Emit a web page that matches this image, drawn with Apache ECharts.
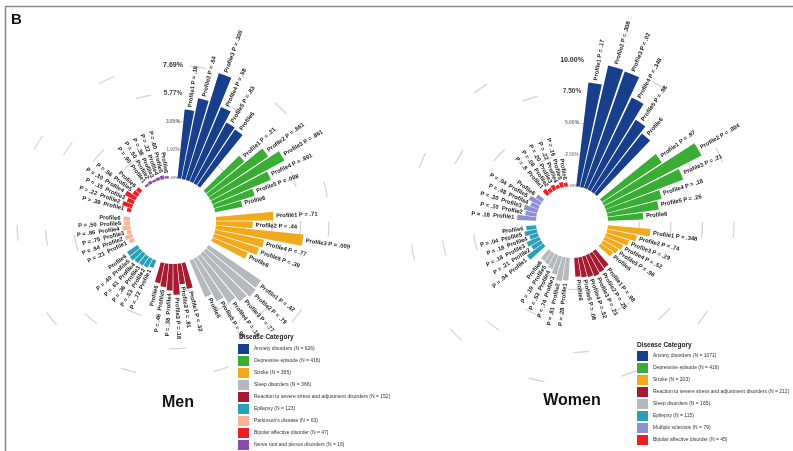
<!DOCTYPE html>
<html>
<head>
<meta charset="utf-8">
<script src="https://cdn.jsdelivr.net/npm/echarts@6/dist/echarts.min.js"></script>
<style>
  html, body { margin: 0; padding: 0; background: #fff; }
  #chart { width: 793px; height: 451px; }
</style>
</head>
<body>
<div id="chart"></div>
<script>
// ---- profiles and radial tick labels ----
const profiles = ['Profile1', 'Profile2', 'Profile3', 'Profile4', 'Profile5', 'Profile6'];
const menTickLabels = ['0.00%', '1.92%', '3.85%', '5.77%', '7.69%'];
const womenTickLabels = ['0.00%', '2.50%', '5.00%', '7.50%', '10.00%'];

// ---- Men: disease categories, counts, bar heights (%) and P values ----
const menGroups = ['Anxiety disorders', 'Depressive episode', 'Stroke', 'Sleep disorders',
  'Reaction to severe stress and adjustment disorders', 'Epilepsy', "Parkinson's disease",
  'Bipolar affective disorder', 'Nerve root and plexus disorders'];
const menN = [626, 416, 365, 366, 152, 123, 63, 47, 16];

const menAnxiety    = [4.7, 5.6, 7.6, 5.5, 4.7, 4.6];
const menDepressive = [3.4, 4.9, 5.7, 4.3, 2.9, 1.9];
const menStroke     = [3.9, 2.5, 6.0, 3.4, 3.2, 2.6];
const menSleep      = [4.3, 4.4, 4.2, 3.8, 3.3, 2.7];
const menReaction   = [1.8, 1.4, 2.1, 1.8, 1.6, 1.4];
const menEpilepsy   = [0.55, 0.7, 0.75, 0.8, 0.9, 0.85];
const menParkinson  = [0.35, 0.5, 0.3, 0.55, 0.4, 0.45];
const menBipolar    = [0.3, 0.7, 0.5, 0.8, 0.4, 0.35];
const menNerve      = [0.15, 0.2, 0.15, 0.2, 0.25, 0.15];

const menAnxietyP    = ['.18', '.64', '.300', '.58', '.83', ''];
const menDepressiveP = ['.21', '.861', '.861', '.891', '.008', ''];
const menStrokeP     = ['.71', '.44', '.009', '.77', '.39', ''];
const menSleepP      = ['.42', '.79', '.77', '.18', '.98', ''];
const menReactionP   = ['.32', '.81', '.18', '.38', '.46', ''];
const menEpilepsyP   = ['.72', '.53', '.36', '.61', '.40', ''];
const menParkinsonP  = ['.21', '.94', '.75', '.86', '.50', ''];
const menBipolarP    = ['.39', '.22', '.15', '.30', '.56', ''];
const menNerveP      = ['.90', '.50', '.38', '.22', '.60', ''];

// ---- Women ----
const womenGroups = ['Anxiety disorders', 'Depressive episode', 'Stroke',
  'Reaction to severe stress and adjustment disorders', 'Sleep disorders', 'Epilepsy',
  'Multiple sclerosis', 'Bipolar affective disorder'];
const womenN = [1071, 416, 203, 212, 165, 115, 79, 45];

const womenAnxiety    = [8.3, 9.9, 9.8, 8.1, 6.7, 6.1];
const womenDepressive = [5.7, 8.7, 6.6, 4.5, 4.1, 2.8];
const womenStroke     = [3.4, 2.4, 1.9, 1.6, 1.4, 1.2];
const womenReaction   = [1.6, 1.7, 1.8, 1.7, 1.6, 1.5];
const womenSleep      = [1.8, 1.9, 1.5, 1.2, 1.0, 0.9];
const womenEpilepsy   = [1.6, 0.9, 1.1, 0.7, 1.0, 0.8];
const womenMS         = [1.5, 0.9, 1.1, 0.7, 1.0, 0.6];
const womenBipolar    = [0.5, 0.35, 0.45, 0.3, 0.4, 0.3];

const womenAnxietyP    = ['.17', '.308', '.02', '.348', '.98', ''];
const womenDepressiveP = ['.97', '.004', '.21', '.18', '.26', ''];
const womenStrokeP     = ['.348', '.74', '.29', '.52', '.96', ''];
const womenReactionP   = ['.98', '.25', '.23', '.52', '.08', ''];
const womenSleepP      = ['.28', '.81', '.74', '.53', '.19', ''];
const womenEpilepsyP   = ['.04', '.21', '.18', '.18', '.04', ''];
const womenMSP         = ['.18', '.10', '.30', '.48', '.04', ''];
const womenBipolarP    = ['.8', '.08', '.20', '.22', '.16', ''];

// ---- category colours ----
const groupColors = {
  'Anxiety disorders': '#173f8c',
  'Depressive episode': '#3aad34',
  'Stroke': '#f2aa1d',
  'Sleep disorders': '#b5b9bd',
  'Reaction to severe stress and adjustment disorders': '#a61b32',
  'Epilepsy': '#2aa0b8',
  "Parkinson's disease": '#f7b29a',
  'Bipolar affective disorder': '#ec2024',
  'Nerve root and plexus disorders': '#8c4bab',
  'Multiple sclerosis': '#8e90d2'
};

const menValues = [menAnxiety, menDepressive, menStroke, menSleep, menReaction,
  menEpilepsy, menParkinson, menBipolar, menNerve];
const menPValues = [menAnxietyP, menDepressiveP, menStrokeP, menSleepP, menReactionP,
  menEpilepsyP, menParkinsonP, menBipolarP, menNerveP];
const womenValues = [womenAnxiety, womenDepressive, womenStroke, womenReaction, womenSleep,
  womenEpilepsy, womenMS, womenBipolar];
const womenPValues = [womenAnxietyP, womenDepressiveP, womenStrokeP, womenReactionP, womenSleepP,
  womenEpilepsyP, womenMSP, womenBipolarP];

// Angular slots: one empty slot at the top, then six profiles + one spacer per category.
function slotIndex(g, k) { return 1 + g * 7 + k; }

function buildPanel(polarIndex, groups, counts, values, pvals, stackName) {
  const nSlots = 1 + groups.length * 7;
  const slots = Array.from({ length: nSlots }, (_, i) => 's' + i);
  const names = groups.map((g, i) => g + ' (N = ' + counts[i] + ')');
  const series = groups.map((g, gi) => {
    const data = new Array(nSlots).fill(null);
    values[gi].forEach((v, k) => { data[slotIndex(gi, k)] = v; });
    return {
      type: 'bar', name: names[gi], coordinateSystem: 'polar', polarIndex,
      stack: stackName, data, barCategoryGap: '12%', z: 3,
      itemStyle: { color: groupColors[g] }, silent: true
    };
  });
  const labelItems = [];
  groups.forEach((g, gi) => {
    values[gi].forEach((v, k) => {
      labelItems.push({ value: v, slot: slotIndex(gi, k), name: profiles[k], p: pvals[gi][k] });
    });
  });
  // Profile / P-value labels, written radially just past the end of each bar.
  series.push({
    type: 'custom', coordinateSystem: 'polar', polarIndex, silent: true, z: 5,
    data: labelItems.map(d => [d.value, d.slot]),
    encode: { radius: 0, angle: 1 },
    renderItem(params, api) {
      const it = labelItems[params.dataIndex];
      const tip = api.coord([it.value, it.slot]);
      const base = api.coord([0, it.slot]);
      const dx = tip[0] - base[0], dy = tip[1] - base[1];
      const len = Math.hypot(dx, dy) || 1;
      const ux = dx / len, uy = dy / len;
      const ang = Math.atan2(-dy, dx);
      const right = ux > -1e-6;
      const text = it.p ? (right ? it.name + ' P = ' + it.p : 'P = ' + it.p + '  ' + it.name) : it.name;
      return {
        type: 'text', x: tip[0] + ux * 3, y: tip[1] + uy * 3,
        rotation: right ? ang : ang + Math.PI,
        style: {
          text, align: right ? 'left' : 'right', verticalAlign: 'middle',
          fontSize: 5.8, fontWeight: 'bold', fill: '#222', fontFamily: 'Liberation Sans'
        }
      };
    }
  });
  return { slots, names, series };
}

const men = buildPanel(0, menGroups, menN, menValues, menPValues, 'men');
const women = buildPanel(1, womenGroups, womenN, womenValues, womenPValues, 'women');

const tickRich = {
  t0: { fontSize: 4, color: '#888' },
  t1: { fontSize: 4.5, color: '#888' },
  t2: { fontSize: 5, color: '#777' },
  t3: { fontSize: 6.5, color: '#444' },
  t4: { fontSize: 7, color: '#333' }
};

function radiusAxis(polarIndex, max, interval, tickLabels) {
  return {
    polarIndex, type: 'value', min: 0, max, interval,
    axisLine: { show: false }, axisTick: { show: false },
    axisLabel: {
      show: true, margin: 0, align: 'center', verticalAlign: 'middle',
      fontFamily: 'Liberation Sans', fontWeight: 'bold',
      formatter: (v) => {
        const i = Math.round(v / interval);
        return '{t' + i + '|' + tickLabels[i] + '}';
      },
      rich: tickRich
    },
    splitLine: {
      show: true,
      lineStyle: { color: ['rgba(0,0,0,0)', '#d2d2d2', '#d2d2d2', '#d2d2d2', '#d2d2d2'], width: 1.2, type: [16, 78] }
    }
  };
}

function angleAxis(polarIndex, slots) {
  return {
    polarIndex, type: 'category', data: slots, startAngle: 90, clockwise: true,
    axisLine: { show: false }, axisTick: { show: false }, axisLabel: { show: false },
    splitLine: { show: false }
  };
}

function legend(names, left, top) {
  return {
    data: names, orient: 'vertical', left, top, padding: 0,
    itemWidth: 11, itemHeight: 10, itemGap: 2, icon: 'rect', selectedMode: false,
    textStyle: { fontSize: 5, color: '#333', fontFamily: 'Liberation Sans' }
  };
}

const chart = echarts.init(document.getElementById('chart'), null, { renderer: 'canvas' });
chart.setOption({
  backgroundColor: '#fff',
  animation: false,
  polar: [
    { center: [173, 221], radius: [43, 156] },
    { center: [572, 222], radius: [36, 162] }
  ],
  angleAxis: [angleAxis(0, men.slots), angleAxis(1, women.slots)],
  radiusAxis: [
    radiusAxis(0, 7.6923, 1.923075, menTickLabels),
    radiusAxis(1, 10, 2.5, womenTickLabels)
  ],
  legend: [legend(men.names, 238, 344), legend(women.names, 637, 351)],
  series: men.series.concat(women.series),
  graphic: [
    { type: 'line', shape: { x1: 5, y1: 6.5, x2: 793, y2: 6.5 }, style: { stroke: '#8a8a8a', lineWidth: 1.5 } },
    { type: 'line', shape: { x1: 5.5, y1: 6, x2: 5.5, y2: 451 }, style: { stroke: '#8a8a8a', lineWidth: 1.5 } },
    { type: 'text', x: 11, y: 12, style: { text: 'B', fontSize: 15, fontWeight: 'bold', fill: '#111', fontFamily: 'Liberation Sans' } },
    { type: 'text', x: 178, y: 403, style: { text: 'Men', fontSize: 16, fontWeight: 'bold', fill: '#111', align: 'center', verticalAlign: 'middle', fontFamily: 'Liberation Sans' } },
    { type: 'text', x: 572, y: 401, style: { text: 'Women', fontSize: 16, fontWeight: 'bold', fill: '#111', align: 'center', verticalAlign: 'middle', fontFamily: 'Liberation Sans' } },
    { type: 'text', x: 239, y: 337, style: { text: 'Disease Category', fontSize: 6.5, fontWeight: 'bold', fill: '#222', verticalAlign: 'middle', fontFamily: 'Liberation Sans' } },
    { type: 'text', x: 637, y: 345, style: { text: 'Disease Category', fontSize: 6.5, fontWeight: 'bold', fill: '#222', verticalAlign: 'middle', fontFamily: 'Liberation Sans' } }
  ]
});
</script>
</body>
</html>
